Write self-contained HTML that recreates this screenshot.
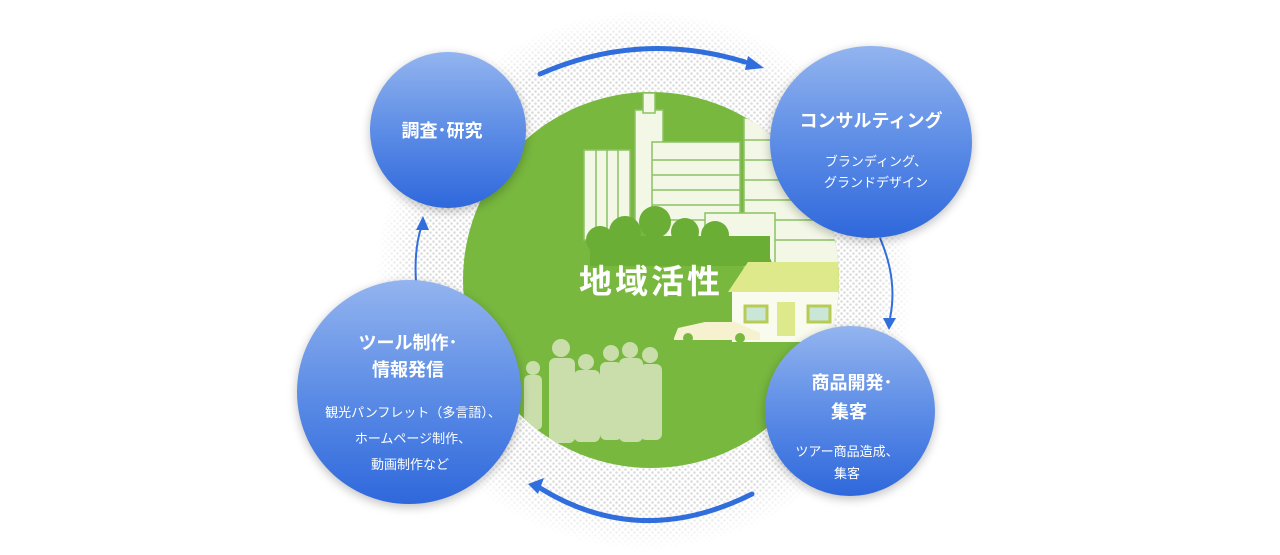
<!DOCTYPE html>
<html><head><meta charset="utf-8"><style>
html,body{margin:0;padding:0;background:#fff;}
svg{display:block;}
text{font-family:"Liberation Sans","Noto Sans CJK JP",sans-serif;}
</style></head><body>
<svg width="1280" height="555" viewBox="0 0 1280 555" xmlns="http://www.w3.org/2000/svg">
<defs>
<pattern id="dots" width="6" height="6" patternUnits="userSpaceOnUse">
<circle cx="1.5" cy="1.5" r="1.3" fill="#dcdcdc"/><circle cx="4.5" cy="4.5" r="1.3" fill="#dcdcdc"/>
</pattern>
<radialGradient id="fade" cx="0.5" cy="0.5" r="0.5">
<stop offset="0.85" stop-color="#fff" stop-opacity="0"/><stop offset="1" stop-color="#fff" stop-opacity="1"/>
</radialGradient>
<linearGradient id="blue" x1="0" y1="0" x2="0" y2="1">
<stop offset="0" stop-color="#93b4ef"/><stop offset="0.5" stop-color="#5d8de6"/><stop offset="1" stop-color="#2f68dc"/>
</linearGradient>
<filter id="sh" x="-30%" y="-30%" width="160%" height="160%"><feGaussianBlur stdDeviation="5"/></filter>
<clipPath id="gc"><circle cx="651" cy="280" r="188"/></clipPath>
</defs>
<circle cx="645" cy="280" r="268" fill="url(#dots)"/>
<circle cx="645" cy="280" r="270" fill="url(#fade)"/>
<circle cx="651" cy="280" r="188" fill="#78b83f"/>
<g clip-path="url(#gc)">
<g fill="#f2f7e6" stroke="#8cc266" stroke-width="1.5">
<rect x="635" y="110" width="28" height="120"/>
<rect x="643" y="93" width="12" height="20"/>
<rect x="584" y="150" width="46" height="90"/>
<line x1="596" y1="150" x2="596" y2="240"/><line x1="607" y1="150" x2="607" y2="240"/><line x1="618" y1="150" x2="618" y2="240"/>
<rect x="744" y="118" width="100" height="150"/>
<line x1="744" y1="140" x2="844" y2="140"/><line x1="744" y1="160" x2="844" y2="160"/><line x1="744" y1="180" x2="844" y2="180"/><line x1="744" y1="200" x2="844" y2="200"/><line x1="744" y1="220" x2="844" y2="220"/><line x1="744" y1="240" x2="844" y2="240"/>
<rect x="652" y="142" width="88" height="100"/>
<line x1="652" y1="160" x2="740" y2="160"/><line x1="652" y1="175" x2="740" y2="175"/><line x1="652" y1="190" x2="740" y2="190"/><line x1="652" y1="205" x2="740" y2="205"/><line x1="652" y1="220" x2="740" y2="220"/>
<rect x="705" y="213" width="70" height="50"/>
</g>
<g fill="#6aae36">
<circle cx="600" cy="240" r="14"/><circle cx="625" cy="232" r="16"/><circle cx="655" cy="222" r="16"/><circle cx="685" cy="232" r="14"/><circle cx="715" cy="235" r="14"/><circle cx="740" cy="250" r="14"/><circle cx="760" cy="265" r="12"/>
<rect x="590" y="236" width="180" height="30"/>
</g>
<polygon points="728,292 748,262 840,262 840,292" fill="#dde98a"/>
<rect x="732" y="292" width="108" height="50" fill="#f8fbee"/>
<rect x="777" y="302" width="18" height="34" fill="#dde98a"/>
<rect x="745" y="306" width="22" height="16" fill="#c9e6d6" stroke="#b8cc55" stroke-width="3"/>
<rect x="808" y="306" width="22" height="16" fill="#c9e6d6" stroke="#b8cc55" stroke-width="3"/>
<path d="M674,338 L678,328 L705,322 L735,322 L760,333 L760,340 L674,340Z" fill="#f6f1cf"/>
<circle cx="688" cy="338" r="5" fill="#78b83f"/><circle cx="740" cy="338" r="5" fill="#78b83f"/>
<g fill="#c9deaa">
<circle cx="533" cy="368" r="7"/><rect x="524" y="375" width="18" height="55" rx="5"/>
<circle cx="561" cy="348" r="9"/><rect x="549" y="358" width="26" height="85" rx="6"/>
<circle cx="586" cy="362" r="8"/><rect x="574" y="370" width="26" height="72" rx="6"/>
<circle cx="611" cy="353" r="8"/><rect x="600" y="362" width="22" height="78" rx="6"/>
<circle cx="630" cy="350" r="8"/><rect x="619" y="358" width="24" height="84" rx="6"/>
<circle cx="650" cy="355" r="8"/><rect x="640" y="364" width="22" height="76" rx="6"/>
</g>
</g>
<text x="651" y="293" font-size="33" font-weight="bold" fill="#fff" text-anchor="middle" letter-spacing="3">地域活性</text>
<g fill="none" stroke="#2f6edc" stroke-width="5" stroke-linecap="round">
<path d="M540,74 Q640,30 745,62"/>
<path d="M752,494 Q640,550 540,488"/>
</g>
<g fill="none" stroke="#2f6edc" stroke-width="2">
<path d="M880,238 Q898,280 890,318"/>
<path d="M416,282 Q414,250 421,228"/>
</g>
<g fill="#2f6edc">
<polygon points="764,68 748,56 745,70"/>
<polygon points="528,484 544,478 538,494"/>
<polygon points="889,330 883,318 896,318"/>
<polygon points="423,216 416,230 429,230"/>
</g>
<g filter="url(#sh)" fill="#000" opacity="0.25">
<circle cx="448" cy="133" r="78"/>
<ellipse cx="871" cy="145" rx="101" ry="96"/>
<circle cx="850" cy="414" r="85"/>
<circle cx="409" cy="395" r="112"/>
</g>
<circle cx="448" cy="130" r="78" fill="url(#blue)"/>
<ellipse cx="871" cy="142" rx="101" ry="96" fill="url(#blue)"/>
<circle cx="850" cy="411" r="85" fill="url(#blue)"/>
<circle cx="409" cy="392" r="112" fill="url(#blue)"/>
<g fill="#fff" text-anchor="middle" font-weight="bold">
<text x="442" y="137" font-size="18">調査･研究</text>
<text x="871" y="127" font-size="18">コンサルティング</text>
<text x="852" y="389" font-size="18">商品開発･</text>
<text x="849" y="418" font-size="18">集客</text>
<text x="408" y="349" font-size="18">ツール制作･</text>
<text x="408" y="376" font-size="18">情報発信</text>
</g>
<g fill="#fff" text-anchor="middle">
<text x="876" y="166" font-size="13">ブランディング、</text>
<text x="876" y="187" font-size="13">グランドデザイン</text>
<text x="847" y="456" font-size="13">ツアー商品造成、</text>
<text x="847" y="478" font-size="13">集客</text>
<text x="413" y="417" font-size="13">観光パンフレット（多言語）、</text>
<text x="413" y="443" font-size="13">ホームページ制作、</text>
<text x="410" y="469" font-size="13">動画制作など</text>
</g>
</svg>
</body></html>
